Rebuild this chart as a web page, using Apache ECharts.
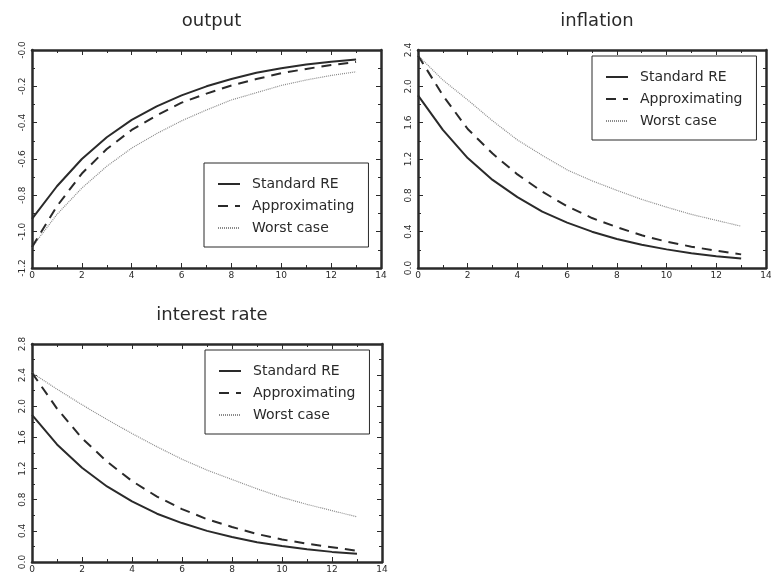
<!DOCTYPE html>
<html>
<head>
<meta charset="utf-8">
<script src="https://cdn.jsdelivr.net/npm/echarts@6/dist/echarts.min.js"></script>
<style>
    html, body { margin: 0; background: #fff; }
    #chart { width: 771px; height: 574px; }
</style>
</head>
<body>
<div id="chart"></div>
<script>
    // periods after the shock
    var periods = [0, 1, 2, 3, 4, 5, 6, 7, 8, 9, 10, 11, 12, 13];
    var seriesNames = ['Standard RE', 'Approximating', 'Worst case'];
    var panelTitles = ['output', 'inflation', 'interest rate'];

    var outputStandard = [-0.93, -0.75, -0.60, -0.48, -0.385, -0.31, -0.25, -0.20, -0.16, -0.125, -0.10, -0.08, -0.065, -0.052];
    var outputApprox = [-1.085, -0.86, -0.68, -0.545, -0.44, -0.36, -0.29, -0.24, -0.195, -0.16, -0.128, -0.104, -0.083, -0.066];
    var outputWorst = [-1.085, -0.905, -0.76, -0.64, -0.54, -0.46, -0.39, -0.33, -0.275, -0.235, -0.195, -0.165, -0.14, -0.12];

    var inflationStandard = [1.90, 1.52, 1.21, 0.97, 0.78, 0.62, 0.50, 0.40, 0.32, 0.255, 0.205, 0.163, 0.13, 0.104];
    var inflationApprox = [2.34, 1.90, 1.53, 1.26, 1.03, 0.84, 0.68, 0.55, 0.45, 0.36, 0.29, 0.235, 0.19, 0.15];
    var inflationWorst = [2.34, 2.07, 1.85, 1.62, 1.41, 1.24, 1.08, 0.96, 0.855, 0.755, 0.67, 0.59, 0.525, 0.46];

    var rateStandard = [1.89, 1.51, 1.21, 0.97, 0.78, 0.62, 0.50, 0.40, 0.32, 0.255, 0.205, 0.163, 0.13, 0.105];
    var rateApprox = [2.43, 1.97, 1.59, 1.29, 1.04, 0.84, 0.68, 0.55, 0.45, 0.36, 0.29, 0.235, 0.19, 0.145];
    var rateWorst = [2.43, 2.22, 2.02, 1.83, 1.65, 1.48, 1.32, 1.18, 1.06, 0.94, 0.83, 0.74, 0.66, 0.58];

    // [min, max, interval] of each panel's y axis
    var yRanges = [[-1.2, 0, 0.2], [0, 2.4, 0.4], [0, 2.8, 0.4]];
    var panelData = [
        [outputStandard, outputApprox, outputWorst],
        [inflationStandard, inflationApprox, inflationWorst],
        [rateStandard, rateApprox, rateWorst]
    ];

    var font = 'DejaVu Sans';
    var ink = '#2a2a2a';
    var grids = [
        {left: 32, top: 50, width: 349, height: 218},
        {left: 418, top: 50, width: 348, height: 218},
        {left: 32, top: 344, width: 350, height: 218}
    ];
    var legendPos = [
        {left: 204, top: 163},
        {left: 592, top: 56},
        {left: 205, top: 350}
    ];
    var lineStyles = [
        {color: ink, width: 2, type: 'solid'},
        {color: ink, width: 2, type: [10, 7]},
        {color: '#8a8a8a', width: 1.2, type: [1, 1]}
    ];

    function pairs(values) {
        return periods.map(function (p, i) { return [p, values[i]]; });
    }

    var option = {
        backgroundColor: '#fff',
        animation: false,
        title: [], grid: [], xAxis: [], yAxis: [], legend: [], series: []
    };

    grids.forEach(function (g, k) {
        option.grid.push({left: g.left, top: g.top, width: g.width, height: g.height,
            outerBoundsMode: 'none', containLabel: false});
        option.title.push({
            text: panelTitles[k], left: g.left + g.width / 2, textAlign: 'center', top: k < 2 ? 7 : 301,
            textStyle: {fontFamily: font, fontSize: 18, fontWeight: 'normal', color: ink}
        });
        var tickBase = {show: true, inside: true, length: 5, lineStyle: {color: ink, width: 1}};
        var minorBase = {show: true, splitNumber: 2, length: 3, lineStyle: {color: ink, width: 1}};
        var lineBase = {show: true, onZero: false, lineStyle: {color: ink, width: 2.5}};
        // bottom / left axes carry labels, top / right axes only close the box with ticks
        ['bottom', 'top'].forEach(function (pos) {
            option.xAxis.push({
                type: 'value', gridIndex: k, position: pos, min: 0, max: 14, interval: 2,
                axisLine: lineBase, axisTick: tickBase, minorTick: minorBase,
                splitLine: {show: false},
                axisLabel: {show: pos === 'bottom', margin: 3, fontSize: 9, fontFamily: font, color: ink}
            });
        });
        var r = yRanges[k];
        ['left', 'right'].forEach(function (pos) {
            option.yAxis.push({
                type: 'value', gridIndex: k, position: pos, min: r[0], max: r[1], interval: r[2],
                axisLine: lineBase, axisTick: tickBase, minorTick: minorBase,
                splitLine: {show: false},
                axisLabel: {
                    show: pos === 'left', rotate: 90, margin: 5, fontSize: 9, fontFamily: font, color: ink,
                    formatter: function (v) { return (k === 0 && v === 0) ? '-0.0' : v.toFixed(1); }
                }
            });
        });
        option.legend.push({
            left: legendPos[k].left, top: legendPos[k].top, orient: 'vertical',
            data: seriesNames, selectedMode: false,
            itemWidth: 22, itemHeight: 14, itemGap: 8,
            padding: [14, 14, 12, 13],
            itemStyle: {opacity: 0},
            borderColor: ink, borderWidth: 1, borderRadius: 0, backgroundColor: '#fff',
            textStyle: {fontFamily: font, fontSize: 14, color: ink, padding: [0, 0, 0, 7]}
        });
        panelData[k].forEach(function (vals, s) {
            option.series.push({
                name: seriesNames[s], type: 'line', xAxisIndex: 2 * k, yAxisIndex: 2 * k,
                data: pairs(vals), symbol: 'none', showSymbol: false,
                lineStyle: lineStyles[s], itemStyle: {color: lineStyles[s].color},
                z: 3 - s
            });
        });
    });

    var myChart = echarts.init(document.getElementById('chart'));
    myChart.setOption(option);
</script>
</body>
</html>
